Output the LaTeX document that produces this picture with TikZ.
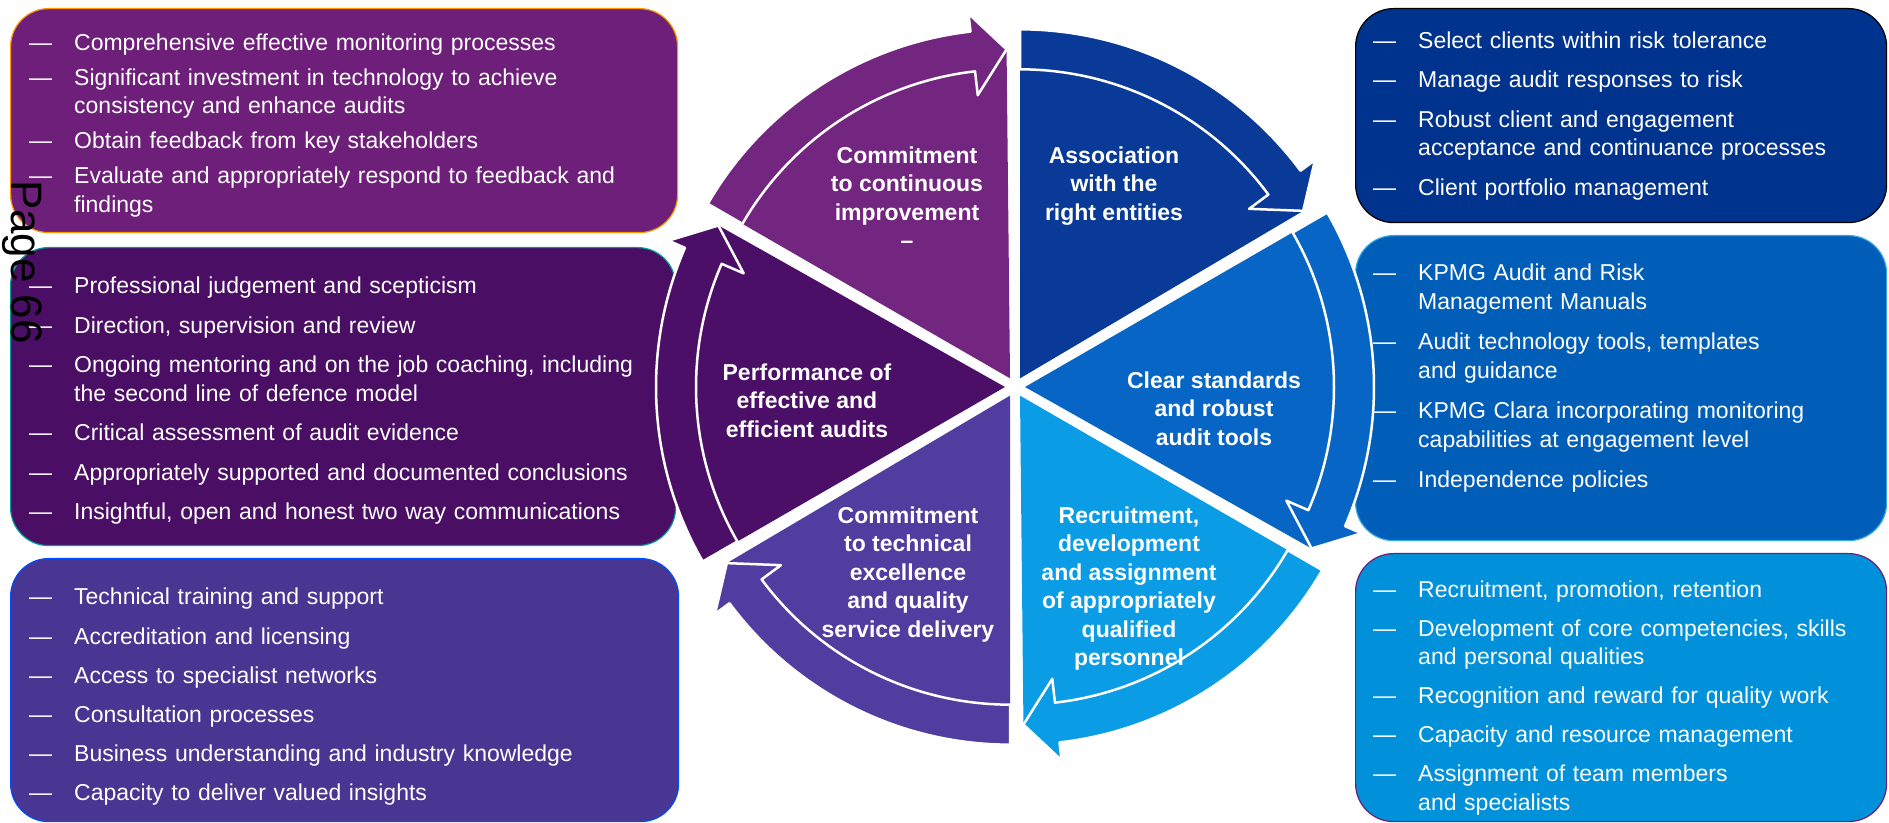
\documentclass[tikz,border=0pt]{standalone}
\usepackage{fontspec}
\setmainfont{Liberation Sans}
\usetikzlibrary{positioning}

% box and wheel colours
\definecolor{plumbox}{HTML}{6D1F79}
\definecolor{plumseg}{HTML}{73267F}
\definecolor{deepbox}{HTML}{4A0E64}
\definecolor{deepseg}{HTML}{4C0F68}
\definecolor{violetbox}{HTML}{483692}
\definecolor{violetseg}{HTML}{4F3DA0}
\definecolor{navybox}{HTML}{00338D}
\definecolor{navyseg}{HTML}{0A3A97}
\definecolor{bluebox}{HTML}{005EB8}
\definecolor{blueseg}{HTML}{0766C5}
\definecolor{skybox}{HTML}{0091DA}
\definecolor{skyseg}{HTML}{0A9CE4}

% one bullet line: dash, then text with hanging indent
\newcommand{\itm}[1]{\par\hangindent=45pt\hangafter=1\noindent\makebox[45pt][l]{—}#1\par}

% one wheel segment with its curved arrow: colour, start angle, end angle
\newcommand{\wheelpart}[3]{%
  \pgfmathsetmacro{\bis}{(#2+#3)/2}%
  \pgfmathsetmacro{\hd}{#3+6.5}%
  \pgfmathsetmacro{\tp}{#3+0.6}%
  \begin{scope}[shift={(hub)}, shift={(\bis:10)}]
    \fill[#1] (0,0) -- (#2:309) arc[start angle=#2, end angle=\hd, radius=309]
      -- (\hd:285) -- (\tp:329) -- cycle;
    \filldraw[fill=#1, draw=white, line width=2.5pt, line join=round]
      (#2:309) -- (#2:349) arc[start angle=#2, end angle=\hd, radius=349]
      -- (\hd:367) -- (\tp:329) -- (\hd:285) -- (\hd:309)
      arc[start angle=\hd, end angle=#2, radius=309] -- cycle;
  \end{scope}}

\begin{document}
\begin{tikzpicture}[
        x=1pt, y=1pt,
        infobox/.style={
            rectangle, rounded corners=38pt, line width=1.2pt, anchor=north west, inner sep=0pt
        },
        itemlist/.style={
            text=white, text width=#1, align=left, inner sep=0pt,
            font=\fontsize{23}{28.5}\selectfont
        },
        seglabel/.style={
            text=white, align=center, anchor=north, inner sep=0pt,
            font=\bfseries\fontsize{23}{28.5}\selectfont
        }
    ]
        \useasboundingbox (0,0) rectangle (1889,822);
        \fill[white] (0,0) rectangle (1889,822);

        % Left boxes
        \node[infobox, fill=plumbox, draw=orange!80!yellow, minimum width=667pt, minimum height=224pt] (improve) at (10,814) {};
        \node[infobox, fill=deepbox, draw=teal!80!cyan, minimum width=665pt, minimum height=298pt] (perform) at (10,575) {};
        \node[infobox, fill=violetbox, draw=blue!70!cyan, minimum width=668pt, minimum height=263pt] (technical) at (10,264) {};

        % Right boxes
        \node[infobox, fill=navybox, draw=black, minimum width=531pt, minimum height=214pt] (assoc) at (1355,814) {};
        \node[infobox, fill=bluebox, draw=skybox!80!white, minimum width=531pt, minimum height=305pt] (standards) at (1355,587) {};
        \node[infobox, fill=skybox, draw=plumbox, minimum width=531pt, minimum height=268pt] (recruit) at (1355,269) {};

        % Box texts
        \node[itemlist=640pt, below right=7pt and 19pt of improve.north west,
              execute at begin node={\setlength{\parskip}{6.5pt}}] (improve-list) {%
            \itm{Comprehensive effective monitoring processes}
            \itm{Significant investment in technology to achieve\newline consistency and enhance audits}
            \itm{Obtain feedback from key stakeholders}
            \itm{Evaluate and appropriately respond to feedback and\newline findings}};
        \node[itemlist=640pt, below right=7pt and 19pt of perform.north west,
              execute at begin node={\setlength{\parskip}{11pt}}] (perform-list) {%
            \itm{Professional judgement and scepticism}
            \itm{Direction, supervision and review}
            \itm{Ongoing mentoring and on the job coaching, including\newline the second line of defence model}
            \itm{Critical assessment of audit evidence}
            \itm{Appropriately supported and documented conclusions}
            \itm{Insightful, open and honest two way communications}};
        \node[itemlist=640pt, below right=7.5pt and 19pt of technical.north west,
              execute at begin node={\setlength{\parskip}{10.7pt}}] (technical-list) {%
            \itm{Technical training and support}
            \itm{Accreditation and licensing}
            \itm{Access to specialist networks}
            \itm{Consultation processes}
            \itm{Business understanding and industry knowledge}
            \itm{Capacity to deliver valued insights}};
        \node[itemlist=520pt, below right=0.5pt and 18pt of assoc.north west,
              execute at begin node={\setlength{\parskip}{11pt}}] (assoc-list) {%
            \itm{Select clients within risk tolerance}
            \itm{Manage audit responses to risk}
            \itm{Robust client and engagement\newline acceptance and continuance processes}
            \itm{Client portfolio management}};
        \node[itemlist=520pt, below right=5pt and 18pt of standards.north west,
              execute at begin node={\setlength{\parskip}{12pt}}] (standards-list) {%
            \itm{KPMG Audit and Risk\newline Management Manuals}
            \itm{Audit technology tools, templates\newline and guidance}
            \itm{KPMG Clara incorporating monitoring\newline capabilities at engagement level}
            \itm{Independence policies}};
        \node[itemlist=520pt, below right=5pt and 18pt of recruit.north west,
              execute at begin node={\setlength{\parskip}{10.5pt}}] (recruit-list) {%
            \itm{Recruitment, promotion, retention}
            \itm{Development of core competencies, skills\newline and personal qualities}
            \itm{Recognition and reward for quality work}
            \itm{Capacity and resource management}
            \itm{Assignment of team members\newline and specialists}};

        % Wheel
        \coordinate (hub) at (1015,435);
        \wheelpart{plumseg}{150}{90}
        \wheelpart{navyseg}{90}{30}
        \wheelpart{blueseg}{30}{-30}
        \wheelpart{skyseg}{-30}{-90}
        \wheelpart{violetseg}{-90}{-150}
        \wheelpart{deepseg}{210}{150}

        % Wheel labels
        \node[seglabel] (improve-label) at (907,675.5) {Commitment\\to continuous\\improvement\\–};
        \node[seglabel] (assoc-label) at (1114,675.5) {Association\\with the\\right entities};
        \node[seglabel] (standards-label) at (1214,450.5) {Clear standards\\and robust\\audit tools};
        \node[seglabel] (recruit-label) at (1129,315.5) {Recruitment,\\development\\and assignment\\of appropriately\\qualified\\personnel};
        \node[seglabel] (technical-label) at (908,315.5) {Commitment\\to technical\\excellence\\and quality\\service delivery};
        \node[seglabel] (perform-label) at (807,458.5) {Performance of\\effective and\\efficient audits};

        % Page number
        \node[rotate=-90, font=\fontsize{44}{44}\selectfont] (pagenum) at (22,560) {Page 66};

    \end{tikzpicture}
\end{document}
